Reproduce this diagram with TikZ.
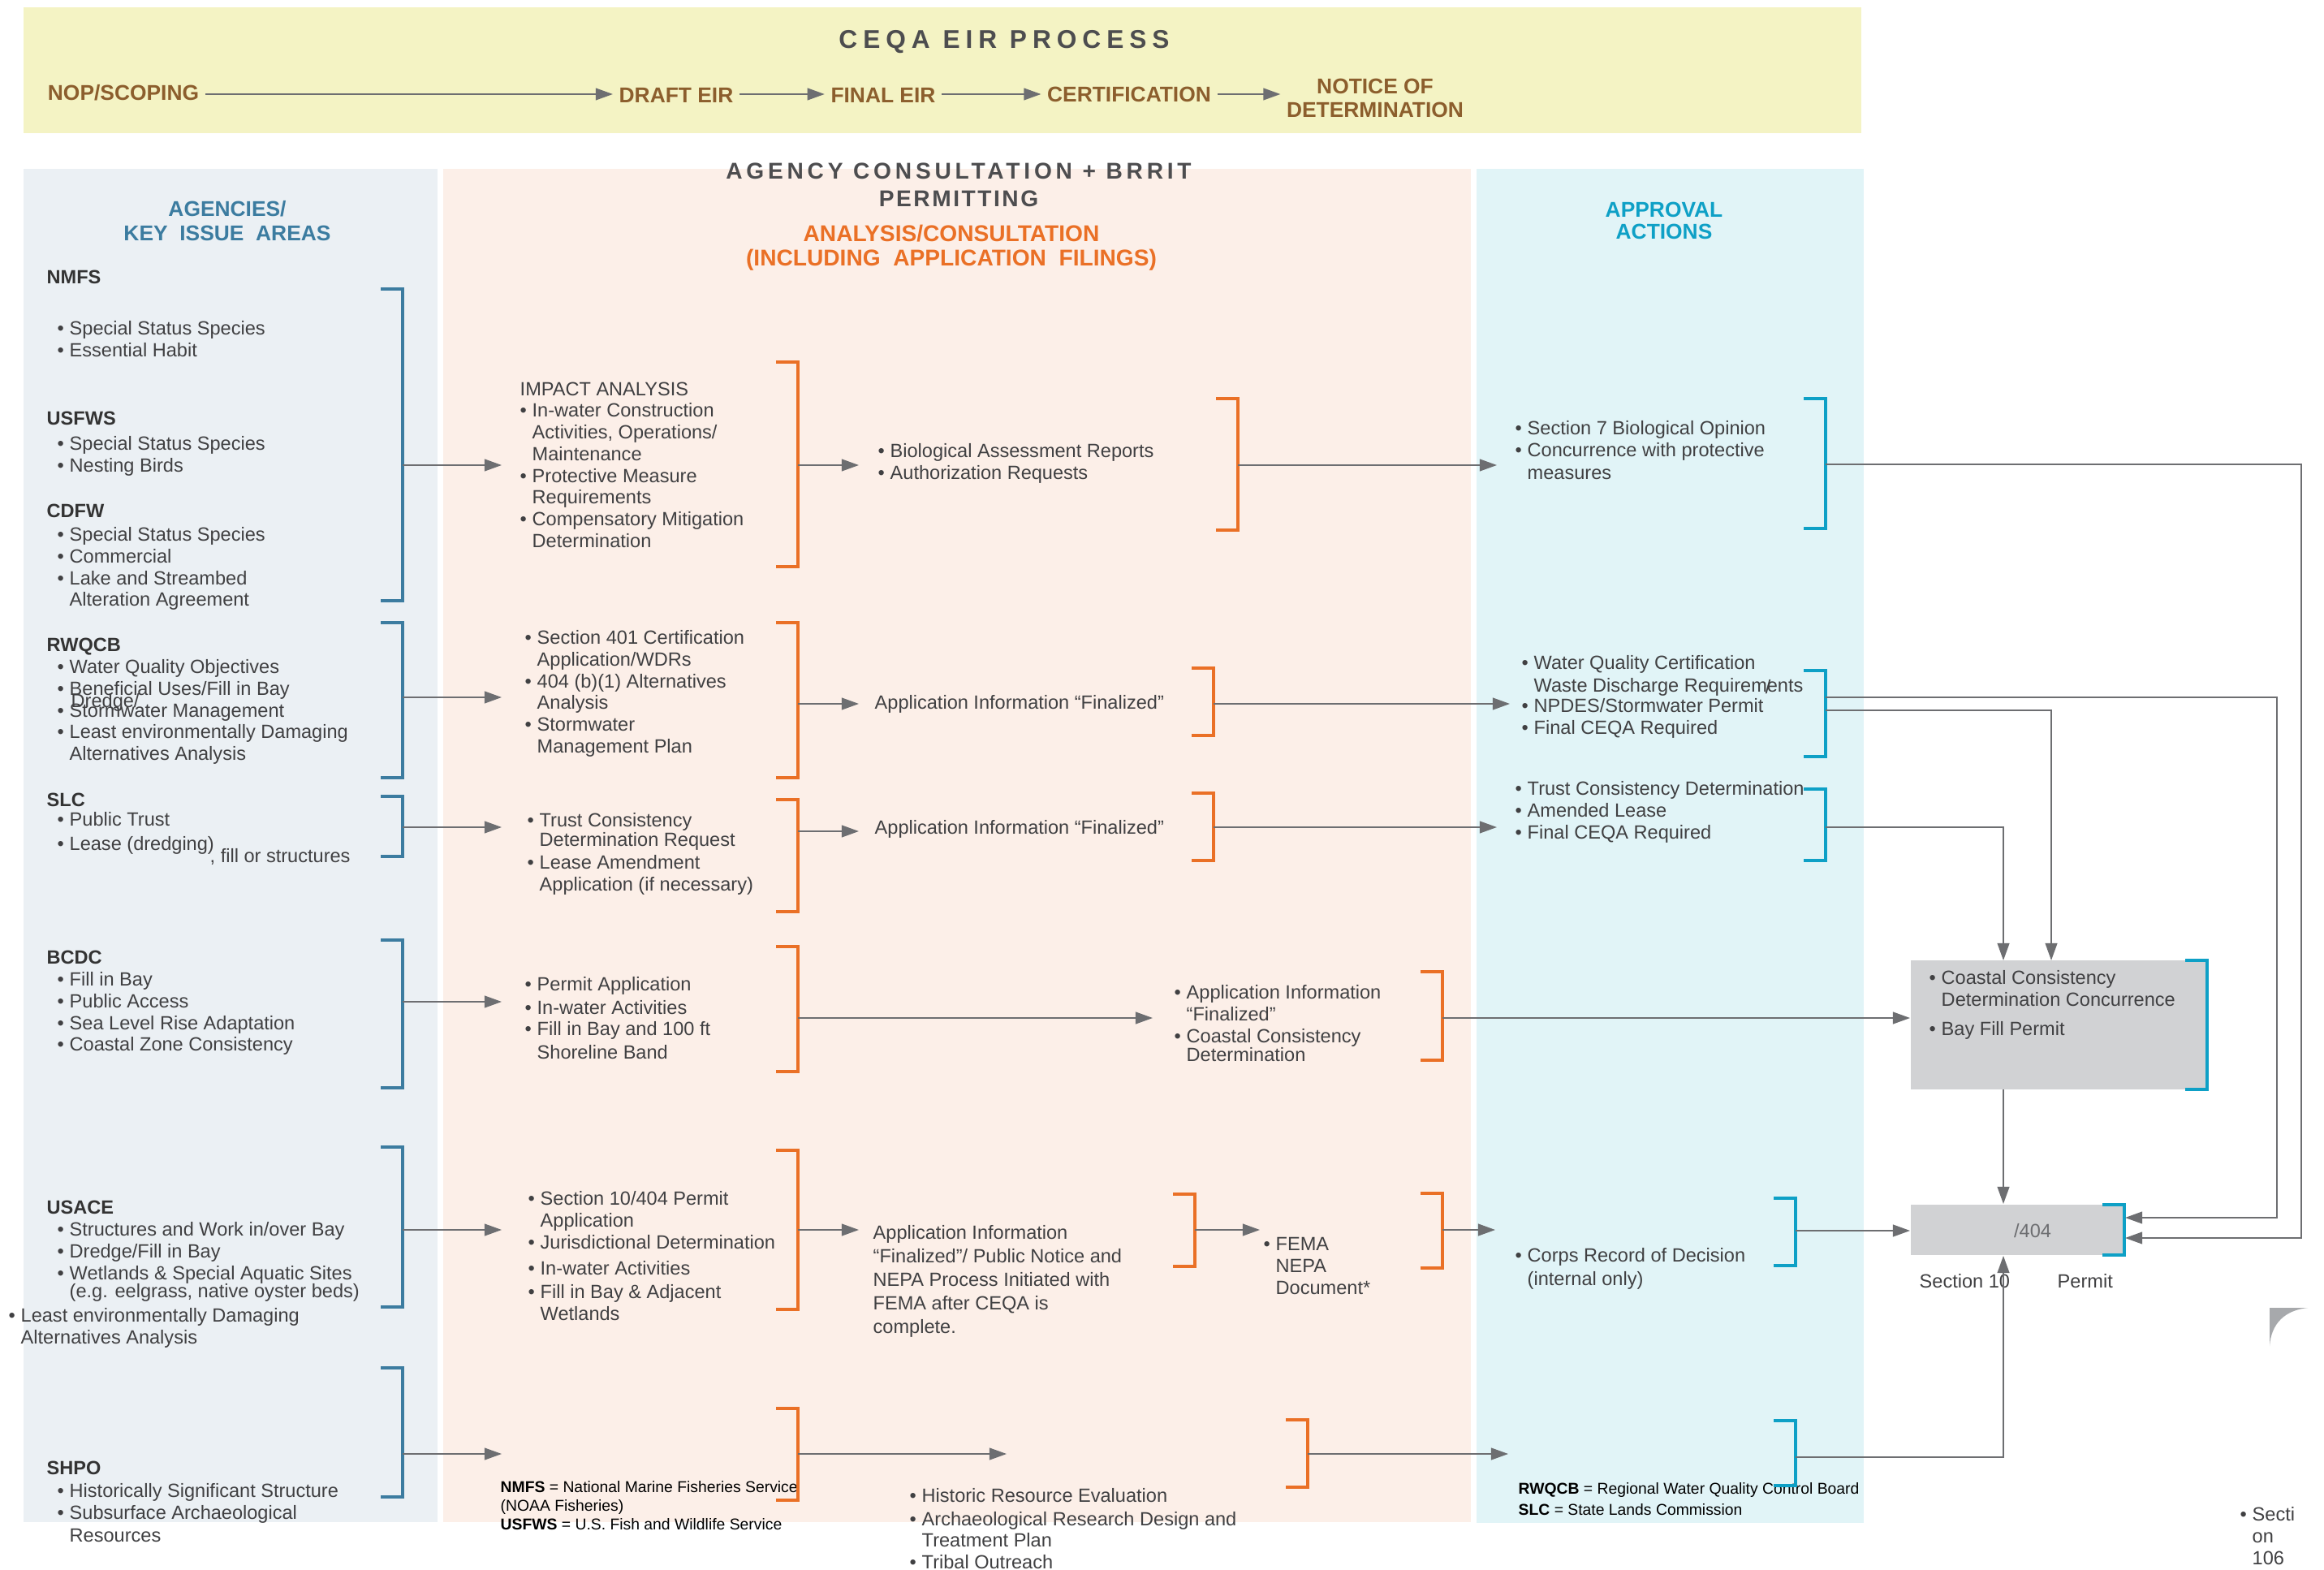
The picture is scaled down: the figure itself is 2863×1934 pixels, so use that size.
\documentclass[tikz,border=0pt]{standalone}
\usepackage{fontspec}
\setmainfont{Liberation Sans}
\usetikzlibrary{arrows.meta}

\definecolor{bannerbg}{RGB}{244,243,196}
\definecolor{procbrown}{RGB}{140,94,45}
\definecolor{titlegray}{RGB}{77,77,79}
\definecolor{agbg}{RGB}{235,240,244}
\definecolor{anbg}{RGB}{252,239,232}
\definecolor{apbg}{RGB}{225,244,247}
\definecolor{agblue}{RGB}{60,124,160}
\definecolor{anorange}{RGB}{234,112,38}
\definecolor{apcyan}{RGB}{14,160,198}
\definecolor{boxgray}{RGB}{209,210,212}
\definecolor{arrowgray}{RGB}{109,110,113}
\definecolor{txtgray}{RGB}{64,64,66}
\definecolor{cornergray}{RGB}{167,169,172}

\newcommand{\itembul}{\makebox[0.15cm][l]{\textbullet}}
\newcommand{\itemind}{\hspace*{0.15cm}}
% bracket: style, right x, top y, bottom y
\newcommand{\drawbrk}[4]{\draw[#1] (#2-27,#3) -| (#2,#4) -- (#2-27,#4);}

\begin{document}
\begin{tikzpicture}[x=0.01cm, y=-0.01cm,
    body/.style={font=\fontsize{6.7}{7.6}\selectfont, text=txtgray, align=left, anchor=north west, inner sep=0pt},
    single/.style={body, anchor=west},
    agname/.style={body, font=\bfseries\fontsize{6.7}{7.6}\selectfont, text=black!80},
    legend/.style={body, font=\fontsize{5.5}{6.5}\selectfont, text=black},
    proc/.style={font=\bfseries\fontsize{7.5}{8.2}\selectfont, text=procbrown, align=center, inner sep=2pt},
    conn/.style={draw=arrowgray, line width=0.5pt, -{Triangle[length=6pt,width=4.2pt]}},
    agbrk/.style={draw=agblue, line width=1.1pt},
    anbrk/.style={draw=anorange, line width=1.1pt},
    apbrk/.style={draw=apcyan, line width=1.1pt}]

    \fill[white] (0,0) rectangle (2863,1934);
    \useasboundingbox (0,0) rectangle (2863,1934);

    % CEQA banner
    \fill[bannerbg] (29,9) rectangle (2293,164);
    \node[font=\bfseries\fontsize{9}{10}\selectfont\addfontfeature{LetterSpace=22}, text=titlegray] (ceqa) at (1237,52) {CEQA EIR PROCESS};
    \node[proc] (nop) at (152,114) {NOP/SCOPING};
    \node[proc] (draft) at (833,117) {DRAFT EIR};
    \node[proc] (final) at (1088,117) {FINAL EIR};
    \node[proc] (cert) at (1391,116) {CERTIFICATION};
    \node[proc] (notice) at (1694,121) {NOTICE OF\\DETERMINATION};
    \draw[conn] (nop.east |- cert.east) -- (cert.east -| draft.west);
    \draw[conn] (draft.east |- cert.east) -- (cert.east -| final.west);
    \draw[conn] (final.east |- cert.east) -- (cert.west);
    \draw[conn] (cert.east) -- (cert.east -| notice.west);

    % Column panels
    \fill[agbg] (29,208) rectangle (539,1875);
    \fill[anbg] (546,208) rectangle (1812,1875);
    \fill[apbg] (1819,208) rectangle (2296,1876);

    \node[font=\bfseries\fontsize{7.5}{8.5}\selectfont, text=agblue, align=center] (aghead) at (280,272) {AGENCIES/\\KEY\ \ ISSUE\ \ AREAS};
    \node[font=\bfseries\fontsize{8}{9.6}\selectfont\addfontfeature{LetterSpace=17}, text=titlegray, align=center] (brrit) at (1181,228) {AGENCY CONSULTATION + BRRIT\\\addfontfeature{LetterSpace=9}PERMITTING};
    \node[font=\bfseries\fontsize{8}{8.5}\selectfont, text=anorange, align=center] (anhead) at (1172,305) {ANALYSIS/CONSULTATION\\(INCLUDING\ \ APPLICATION\ \ FILINGS)};
    \node[font=\bfseries\fontsize{7.5}{7.9}\selectfont, text=apcyan, align=center] (aphead) at (2050,272) {APPROVAL\\ACTIONS};

    % Agencies / key issue areas
    \node[agname] (nmfs) at (57,332) {NMFS};
    \node[body] (nmfs-list) at (70,395) {\itembul Special Status Species\\\itembul Essential Habit};
    \node[agname] (usfws) at (57,506) {USFWS};
    \node[body] (usfws-list) at (70,537) {\itembul Special Status Species\\\itembul Nesting Birds};
    \node[agname] (cdfw) at (57,620) {CDFW};
    \node[body] (cdfw-list) at (70,649) {\itembul Special Status Species\\\itembul Commercial\\\itembul Lake and Streambed\\\itemind Alteration Agreement};
    \node[agname] (rwqcb) at (57,785) {RWQCB};
    \node[body] (rwqcb-list) at (70,812) {\itembul Water Quality Objectives\\\itembul Beneficial Uses/Fill in Bay\\\itembul Stormwater Management\\\itembul Least environmentally Damaging\\\itemind Alternatives Analysis};
    \node[body] (dredge) at (87,854) {Dredge/};
    \node[agname] (slc) at (57,976) {SLC};
    \node[body] (slc-list) at (70,1000) {\itembul Public Trust\\[0.85pt]\itembul Lease (dredging)};
    \node[body] (slc-fill) at (258,1045) {, fill or structures};
    \node[agname] (bcdc) at (57,1170) {BCDC};
    \node[body] (bcdc-list) at (70,1197) {\itembul Fill in Bay\\\itembul Public Access\\\itembul Sea Level Rise Adaptation\\\itembul Coastal Zone Consistency};
    \node[agname] (usace) at (57,1478) {USACE};
    \node[body] (usace-list) at (70,1505) {\itembul Structures and Work in/over Bay\\\itembul Dredge/Fill in Bay\\\itembul Wetlands \& Special Aquatic Sites\\[-1.3pt]\itemind (e.g. eelgrass, native oyster beds)};
    \node[body] (usace-leda) at (10,1611) {\itembul Least environmentally Damaging\\\itemind Alternatives Analysis};
    \node[agname] (shpo) at (57,1799) {SHPO};
    \node[body] (shpo-list) at (70,1827) {\itembul Historically Significant Structure\\\itembul Subsurface Archaeological\\[0.4pt]\itemind Resources};

    \drawbrk{agbrk}{496}{356}{740}
    \drawbrk{agbrk}{496}{767}{958}
    \drawbrk{agbrk}{496}{981}{1055}
    \drawbrk{agbrk}{496}{1158}{1340}
    \drawbrk{agbrk}{496}{1413}{1610}
    \drawbrk{agbrk}{496}{1685}{1844}

    % Analysis / consultation
    \node[body] (impact) at (640,470) {IMPACT ANALYSIS\\\itembul In-water Construction\\\itemind Activities, Operations/\\\itemind Maintenance\\\itembul Protective Measure\\\itemind Requirements\\\itembul Compensatory Mitigation\\\itemind Determination};
    \node[body] (bio) at (1081,546) {\itembul Biological Assessment Reports\\\itembul Authorization Requests};
    \node[body] (s401) at (646,776) {\itembul Section 401 Certification\\\itemind Application/WDRs\\\itembul 404 (b)(1) Alternatives\\\itemind Analysis\\\itembul Stormwater\\\itemind Management Plan};
    \node[single] (fin-rwqcb) at (1077,867) {Application Information ``Finalized''};
    \node[body] (trust) at (649,1001) {\itembul Trust Consistency\\[-0.8pt]\itemind Determination Request\\[0.3pt]\itembul Lease Amendment\\\itemind Application (if necessary)};
    \node[single] (fin-slc) at (1077,1021) {Application Information ``Finalized''};
    \node[body] (permit) at (646,1203) {\itembul Permit Application\\[0.5pt]\itembul In-water Activities\\\itembul Fill in Bay and 100 ft\\[0.5pt]\itemind Shoreline Band};
    \node[body] (fin-bcdc) at (1446,1213) {\itembul Application Information\\\itemind ``Finalized''\\\itembul Coastal Consistency\\[-1pt]\itemind Determination};
    \node[body] (s10) at (650,1467) {\itembul Section 10/404 Permit\\\itemind Application\\\itembul Jurisdictional Determination\\[1.7pt]\itembul In-water Activities\\[0.6pt]\itembul Fill in Bay \& Adjacent\\\itemind Wetlands};
    \node[body, font=\fontsize{6.7}{8.2}\selectfont] (nepa) at (1075,1509) {Application Information\\``Finalized''/ Public Notice and\\NEPA Process Initiated with\\FEMA after CEQA is\\complete.};
    \node[body] (fema) at (1556,1524) {\itembul FEMA\\\itemind NEPA\\\itemind Document*};
    \node[body] (hist) at (1120,1833) {\itembul Historic Resource Evaluation\\[0.5pt]\itembul Archaeological Research Design and\\\itemind Treatment Plan\\\itembul Tribal Outreach};
    \node[legend] (legend-fed) at (616,1824) {\textbf{NMFS} = National Marine Fisheries Service\\(NOAA Fisheries)\\\textbf{USFWS} = U.S. Fish and Wildlife Service};

    \drawbrk{anbrk}{983}{446}{698}
    \drawbrk{anbrk}{1525}{491}{653}
    \drawbrk{anbrk}{983}{767}{958}
    \drawbrk{anbrk}{1495}{823}{906}
    \drawbrk{anbrk}{983}{985}{1123}
    \drawbrk{anbrk}{1495}{977}{1060}
    \drawbrk{anbrk}{983}{1166}{1320}
    \drawbrk{anbrk}{1777}{1197}{1306}
    \drawbrk{anbrk}{983}{1417}{1613}
    \drawbrk{anbrk}{1472}{1471}{1560}
    \drawbrk{anbrk}{1777}{1470}{1562}
    \drawbrk{anbrk}{983}{1735}{1848}
    \drawbrk{anbrk}{1611}{1749}{1832}

    % Approval actions
    \node[body] (sec7) at (1866,518) {\itembul Section 7 Biological Opinion\\\itembul Concurrence with protective\\[0.3pt]\itemind measures};
    \node[body] (wqc) at (1874,807) {\itembul Water Quality Certification\\[0.3pt]\itemind Waste Discharge Requirements\\[-0.5pt]\itembul NPDES/Stormwater Permit\\\itembul Final CEQA Required};
    \node[body, anchor=center] (slash) at (2178,846) {/};
    \node[body] (tcd) at (1866,962) {\itembul Trust Consistency Determination\\\itembul Amended Lease\\\itembul Final CEQA Required};
    \node[body] (corps) at (1866,1537) {\itembul Corps Record of Decision\\[0.5pt]\itemind (internal only)};
    \node[legend, font=\fontsize{5.5}{7.4}\selectfont] (legend-state) at (1870,1826) {\textbf{RWQCB} = Regional Water Quality Control Board\\\textbf{SLC} = State Lands Commission};

    \drawbrk{apbrk}{2249}{491}{651}
    \drawbrk{apbrk}{2249}{826}{932}
    \drawbrk{apbrk}{2249}{972}{1060}
    \drawbrk{apbrk}{2212}{1476}{1559}
    \drawbrk{apbrk}{2212}{1750}{1830}

    % Permit boxes
    \node[fill=boxgray, minimum width=3.65cm, minimum height=1.59cm, inner sep=0pt] (ccbox) at (2536.5,1262.5) {};
    \node[body] (ccbox-text) at (2376,1195) {\itembul Coastal Consistency\\\itemind Determination Concurrence\\[2.5pt]\itembul Bay Fill Permit};
    \node[fill=boxgray, minimum width=2.63cm, minimum height=0.62cm, inner sep=0pt] (box404) at (2485.5,1515) {};
    \node[body, anchor=center, text=arrowgray] (box404-text) at (2504,1516) {/404};
    \node[single] (sec10) at (2364,1578) {Section 10};
    \node[single] (permit404) at (2534,1578) {Permit};
    \drawbrk{apbrk}{2719}{1183}{1342}
    \drawbrk{apbrk}{2617}{1484}{1546}

    \fill[cornergray] (2796,1658) -- (2796,1611) -- (2843,1611) .. controls (2815,1614) and (2798,1630) .. (2796,1658) -- cycle;
    \node[body] (s106) at (2759,1856) {\itembul Secti\\\itemind on\\\itemind 106};

    % Connectors, row by row
    \coordinate (ag1) at (496,573);   \coordinate (an1) at (618,573);
    \coordinate (an1o) at (983,573);  \coordinate (bio-in) at (1058,573);
    \coordinate (bio-o) at (1525,573); \coordinate (ap1) at (1844,573);
    \coordinate (ap1o) at (2249,572); \coordinate (p404a) at (2618,1525);
    \draw[conn] (ag1) -- (an1);
    \draw[conn] (an1o) -- (bio-in);
    \draw[conn] (bio-o) -- (ap1);
    \draw[conn] (ap1o) -- (2835,572) |- (p404a);

    \coordinate (ag2) at (496,859);   \coordinate (an2) at (618,859);
    \coordinate (an2o) at (983,867);  \coordinate (fin2-in) at (1058,867);
    \coordinate (fin2-o) at (1495,867); \coordinate (ap2) at (1860,867);
    \coordinate (ap2o) at (2249,859); \coordinate (ap2p) at (2249,875);
    \coordinate (p404b) at (2618,1500); \coordinate (cc-b) at (2527,1183);
    \draw[conn] (ag2) -- (an2);
    \draw[conn] (an2o) -- (fin2-in);
    \draw[conn] (fin2-o) -- (ap2);
    \draw[conn] (ap2o) -- (2805,859) |- (p404b);
    \draw[conn] (ap2p) -| (cc-b);

    \coordinate (ag3) at (496,1019);  \coordinate (an3) at (618,1019);
    \coordinate (an3o) at (983,1024); \coordinate (fin3-in) at (1058,1024);
    \coordinate (fin3-o) at (1495,1019); \coordinate (ap3) at (1844,1019);
    \coordinate (ap3o) at (2249,1019); \coordinate (cc-a) at (2468,1183);
    \draw[conn] (ag3) -- (an3);
    \draw[conn] (an3o) -- (fin3-in);
    \draw[conn] (fin3-o) -- (ap3);
    \draw[conn] (ap3o) -| (cc-a);

    \coordinate (ag4) at (496,1234);  \coordinate (an4) at (618,1234);
    \coordinate (an4o) at (983,1254); \coordinate (fin4-in) at (1420,1254);
    \coordinate (fin4-o) at (1777,1254); \coordinate (cc-in) at (2353,1254);
    \coordinate (cc-o) at (2468,1342); \coordinate (p404c) at (2468,1483);
    \draw[conn] (ag4) -- (an4);
    \draw[conn] (an4o) -- (fin4-in);
    \draw[conn] (fin4-o) -- (cc-in);
    \draw[conn] (cc-o) -- (p404c);

    \coordinate (ag5) at (496,1515);  \coordinate (an5) at (618,1515);
    \coordinate (an5o) at (983,1515); \coordinate (nepa-in) at (1058,1515);
    \coordinate (nepa-o) at (1472,1515); \coordinate (fema-in) at (1552,1515);
    \coordinate (fema-o) at (1777,1515); \coordinate (ap5) at (1842,1515);
    \coordinate (ap5o) at (2212,1516); \coordinate (p404d) at (2353,1516);
    \draw[conn] (ag5) -- (an5);
    \draw[conn] (an5o) -- (nepa-in);
    \draw[conn] (nepa-o) -- (fema-in);
    \draw[conn] (fema-o) -- (ap5);
    \draw[conn] (ap5o) -- (p404d);

    \coordinate (ag6) at (496,1791);  \coordinate (an6) at (618,1791);
    \coordinate (an6o) at (983,1791); \coordinate (hist-in) at (1240,1791);
    \coordinate (hist-o) at (1611,1791); \coordinate (ap6) at (1858,1791);
    \coordinate (ap6o) at (2212,1795); \coordinate (p404e) at (2468,1547);
    \draw[conn] (ag6) -- (an6);
    \draw[conn] (an6o) -- (hist-in);
    \draw[conn] (hist-o) -- (ap6);
    \draw[conn] (ap6o) -| (p404e);

\end{tikzpicture}
\end{document}
